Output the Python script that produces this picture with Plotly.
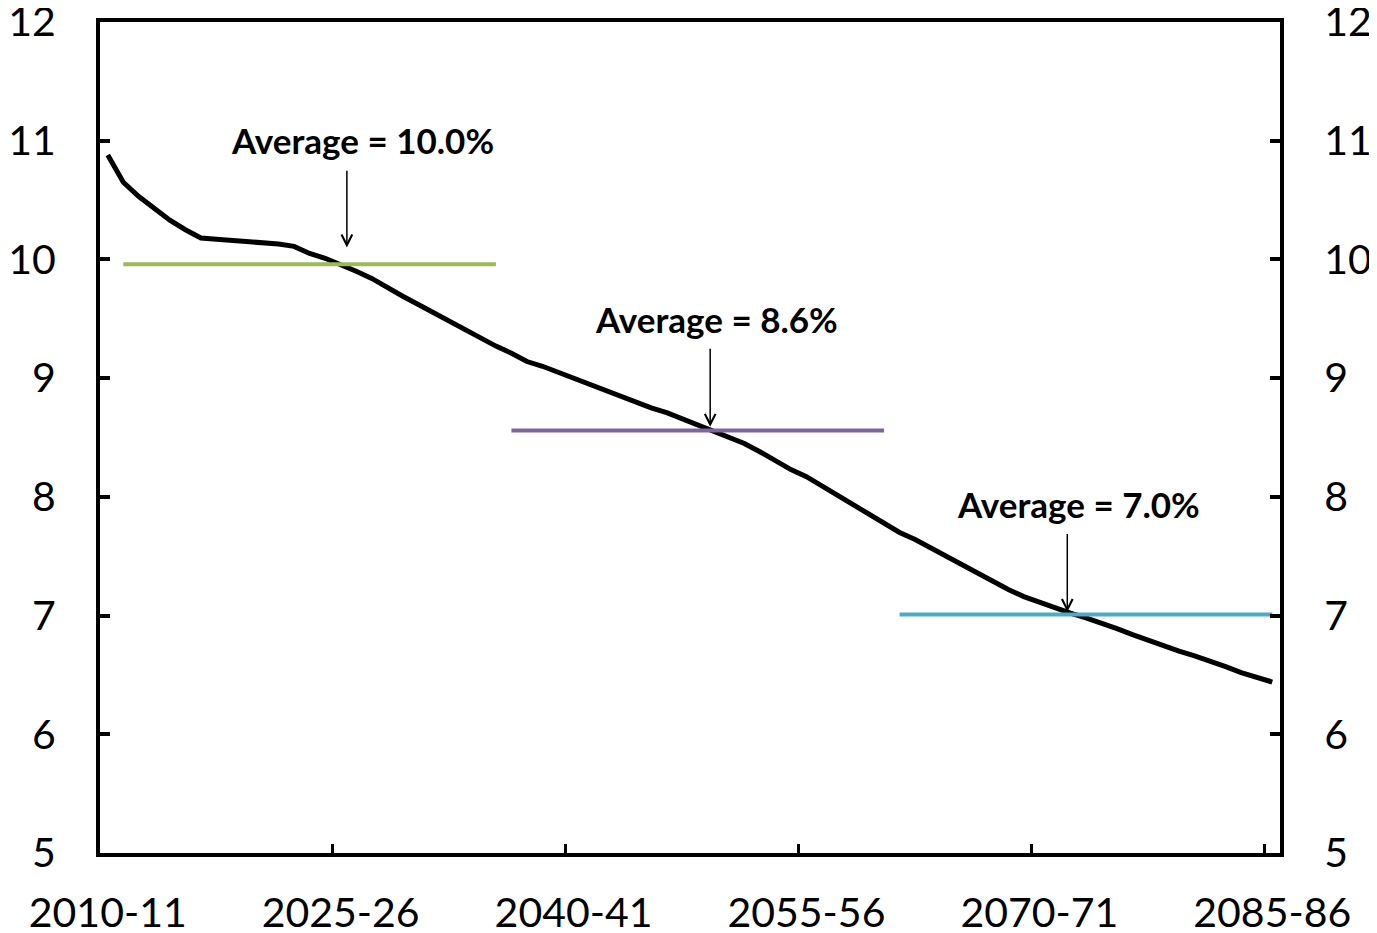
import plotly.graph_objects as go

# financial years 2010-11 .. 2085-86
years = [f"{y}-{str(y + 1)[-2:]}" for y in range(2010, 2086)]

share = [
    10.88, 10.65, 10.53, 10.43, 10.33, 10.25, 10.18, 10.17, 10.16, 10.16,
    10.15, 10.13, 10.11, 10.05, 10.01, 9.96, 9.90, 9.84, 9.76, 9.69,
    9.62, 9.55, 9.48, 9.41, 9.33, 9.27, 9.21, 9.14, 9.10, 9.05,
    9.00, 8.94, 8.89, 8.84, 8.80, 8.75, 8.71, 8.66, 8.61, 8.55,
    8.50, 8.45, 8.38, 8.30, 8.23, 8.17, 8.09, 8.02, 7.94, 7.86,
    7.78, 7.70, 7.64, 7.57, 7.49, 7.42, 7.35, 7.28, 7.22, 7.16,
    7.11, 7.06, 7.02, 6.98, 6.94, 6.89, 6.84, 6.79, 6.74, 6.70,
    6.66, 6.62, 6.57, 6.52, 6.48, 6.44,
]

# average periods (first / last year) and values
avg_start = ["2011-12", "2036-37", "2061-62"]
avg_end = ["2035-36", "2060-61", "2085-86"]
avg_values = [9.96, 8.56, 7.01]
avg_labels = ["Average = 10.0%", "Average = 8.6%", "Average = 7.0%"]
avg_colors = ["#9BBB59", "#8064A2", "#4BACC6"]

# arrow head / tail and label position (category index, value)
arrow_x = [15.4, 38.8, 61.8]
arrow_head = [10.10, 8.59, 7.03]
arrow_tail = [10.76, 9.26, 7.70]
label_x = [16.4, 39.2, 62.5]
label_y = [11.01, 9.50, 7.94]

fig = go.Figure()

fig.add_trace(go.Scatter(x=years, y=share, mode="lines",
                         line=dict(color="black", width=5), showlegend=False))

# average lines sit on top of the projection line
for s, e, v, c in zip(avg_start, avg_end, avg_values, avg_colors):
    fig.add_trace(go.Scatter(x=[s, e], y=[v, v], mode="lines",
                             line=dict(color=c, width=4), showlegend=False))

# dummy trace so the right axis is drawn
fig.add_trace(go.Scatter(x=[years[0]], y=[None], yaxis="y2",
                         showlegend=False, hoverinfo="skip"))

for i in range(3):
    fig.add_annotation(x=arrow_x[i], y=arrow_head[i], ax=arrow_x[i], ay=arrow_tail[i],
                       axref="x", ayref="y", xref="x", yref="y", text="",
                       showarrow=True, arrowhead=5, arrowsize=1.4, arrowwidth=1.5,
                       arrowcolor="black")
    fig.add_annotation(x=label_x[i], y=label_y[i], xref="x", yref="y",
                       text=f"<b>{avg_labels[i]}</b>", showarrow=False,
                       font=dict(size=35, color="black"))

axis_font = dict(family="Lato", size=41, color="black")

# page body has an 8px margin, so the figure is 16px smaller than the window
fig.update_layout(
    template="none",
    width=1369, height=925,
    margin=dict(l=92, r=97, t=14, b=80),
    plot_bgcolor="white", paper_bgcolor="white",
    font=dict(family="Lato", color="black"),
    xaxis=dict(type="category", categoryorder="array", categoryarray=years,
               range=[-0.5, 75.5], tick0=0, dtick=15, tickangle=0,
               tickson="boundaries", ticks="inside", ticklen=9, tickwidth=3,
               tickcolor="black", showline=True, linecolor="black", linewidth=4,
               mirror=True, showgrid=False, zeroline=False, tickfont=axis_font,
               ticklabelstandoff=21, automargin=False, ticklabeloverflow="allow"),
    yaxis=dict(range=[5, 12], dtick=1, ticks="inside", ticklen=10, tickwidth=4,
               tickcolor="black", showline=True, linecolor="black", linewidth=4,
               showgrid=False, zeroline=False, tickfont=axis_font,
               ticklabelstandoff=32, automargin=False, ticklabeloverflow="allow"),
    yaxis2=dict(range=[5, 12], dtick=1, overlaying="y", side="right",
                ticks="inside", ticklen=10, tickwidth=4, tickcolor="black",
                showline=True, linecolor="black", linewidth=4, showgrid=False,
                zeroline=False, tickfont=axis_font, ticklabelstandoff=32,
                automargin=False, ticklabeloverflow="allow"),
)

fig.write_html("out.html")
